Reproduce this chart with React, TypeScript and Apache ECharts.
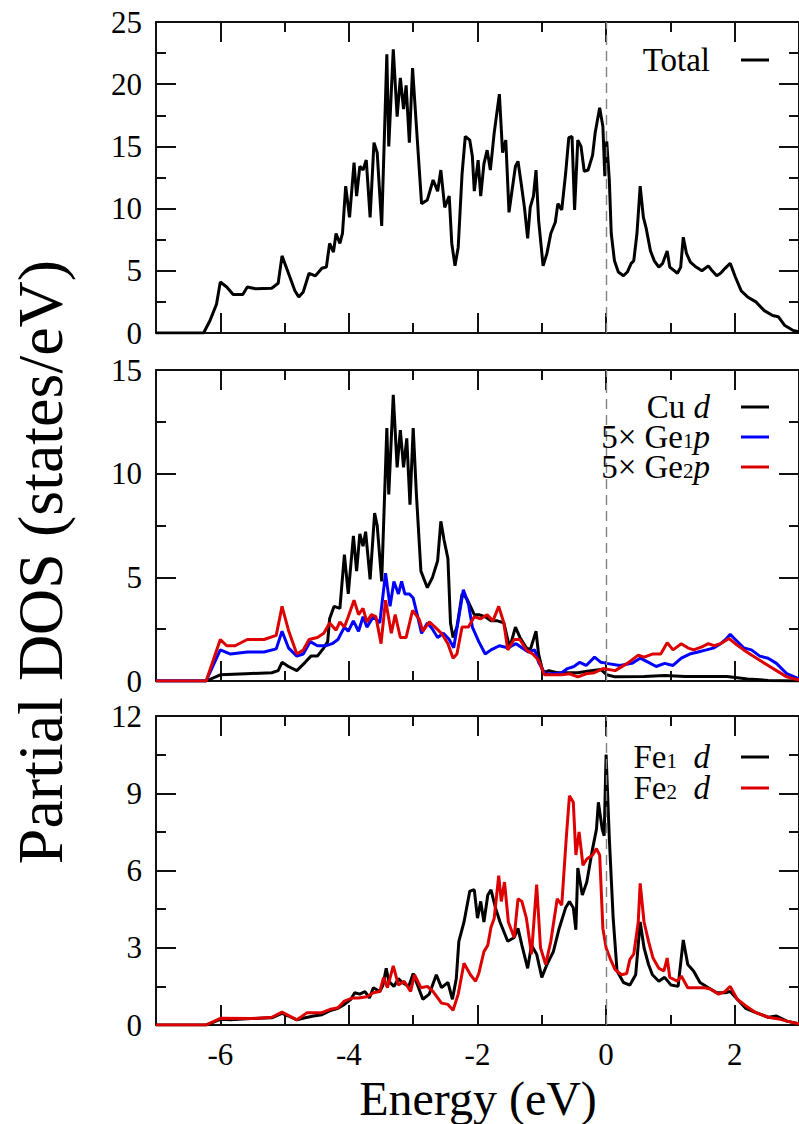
import React, { useEffect, useRef } from "react";
import * as echarts from "echarts";

// ---------------- data (energy in eV, DOS in states/eV) ----------------
const energyMajorTicks = [-6, -4, -2, 0, 2];
const energyMinorTicks = [-5, -3, -1, 1];

const totalDos: [number, number][] = [
  [-7, 0], [-6.26, 0], [-6.16, 1.0], [-6.06, 2.3], [-6.0, 4.1], [-5.9, 3.7], [-5.8, 3.1], [-5.65, 3.1], [-5.58, 3.7],
  [-5.45, 3.55], [-5.2, 3.6], [-5.1, 4.0], [-5.04, 6.2], [-4.94, 4.8], [-4.84, 3.4], [-4.78, 2.9], [-4.71, 3.3],
  [-4.62, 4.8], [-4.52, 4.6], [-4.42, 5.2], [-4.35, 5.3], [-4.3, 7.2], [-4.24, 6.5], [-4.2, 8.0], [-4.14, 7.2],
  [-4.1, 8.0], [-4.05, 11.8], [-3.99, 9.3], [-3.92, 13.7], [-3.88, 11.0], [-3.83, 13.4], [-3.78, 13.1], [-3.73, 13.9],
  [-3.67, 9.3], [-3.61, 15.3], [-3.56, 14.5], [-3.49, 8.6], [-3.41, 22.4], [-3.38, 15.0], [-3.31, 22.8], [-3.25, 17.4],
  [-3.2, 20.5], [-3.15, 18.0], [-3.11, 19.9], [-3.06, 15.3], [-3.01, 21.3], [-2.95, 16.6], [-2.87, 10.4], [-2.78, 10.7],
  [-2.69, 12.3], [-2.62, 11.4], [-2.57, 13.1], [-2.51, 10.1], [-2.44, 11.0], [-2.4, 7.2], [-2.35, 5.4], [-2.3, 6.9],
  [-2.24, 12.8], [-2.19, 15.8], [-2.12, 15.5], [-2.08, 14.2], [-2.05, 11.4], [-1.99, 13.9], [-1.95, 11.0], [-1.9, 13.6],
  [-1.85, 14.7], [-1.8, 13.1], [-1.74, 16.1], [-1.66, 19.2], [-1.61, 14.5], [-1.56, 15.5], [-1.51, 9.7], [-1.47, 11.2],
  [-1.41, 13.4], [-1.37, 13.8], [-1.32, 12.0], [-1.27, 10.1], [-1.22, 7.6], [-1.18, 10.1], [-1.13, 11.0], [-1.09, 13.1],
  [-1.05, 9.1], [-0.98, 5.4], [-0.92, 6.4], [-0.86, 8.0], [-0.79, 8.9], [-0.75, 10.4], [-0.69, 9.9], [-0.63, 12.8],
  [-0.58, 15.7], [-0.53, 15.8], [-0.49, 9.9], [-0.44, 15.5], [-0.39, 15.0], [-0.34, 13.0], [-0.28, 13.1], [-0.21, 14.3],
  [-0.17, 16.1], [-0.1, 18.1], [-0.05, 16.6], [-0.02, 12.6], [0.01, 15.4], [0.05, 12.3], [0.08, 8.0], [0.13, 5.8],
  [0.19, 4.9], [0.27, 4.6], [0.33, 4.9], [0.39, 5.6], [0.43, 5.8], [0.48, 8.0], [0.53, 11.8], [0.58, 9.3], [0.62, 8.5],
  [0.69, 6.6], [0.75, 5.8], [0.82, 5.3], [0.88, 5.6], [0.95, 6.6], [0.99, 5.3], [1.11, 4.8], [1.16, 5.3], [1.2, 7.7],
  [1.25, 6.4], [1.31, 5.7], [1.4, 5.3], [1.49, 5.0], [1.59, 5.4], [1.65, 5.0], [1.72, 4.6], [1.78, 4.8], [1.85, 5.2],
  [1.93, 5.6], [2.01, 4.5], [2.1, 3.4], [2.2, 2.9], [2.33, 2.5], [2.46, 1.8], [2.59, 1.4], [2.68, 1.3], [2.78, 0.6],
  [2.91, 0.2], [3.0, 0.1],
];

const cuD: [number, number][] = [
  [-7, 0], [-6.22, 0], [-6.0, 0.3], [-5.6, 0.35], [-5.2, 0.4], [-5.1, 0.5], [-5.04, 0.9], [-4.94, 0.7], [-4.81, 0.5],
  [-4.68, 0.9], [-4.59, 1.2], [-4.49, 1.2], [-4.39, 1.6], [-4.33, 1.9], [-4.3, 3.0], [-4.23, 3.6], [-4.14, 3.5],
  [-4.07, 6.1], [-4.01, 4.2], [-3.93, 7.0], [-3.88, 5.3], [-3.83, 7.1], [-3.78, 6.5], [-3.74, 7.2], [-3.67, 4.9],
  [-3.6, 8.1], [-3.56, 7.5], [-3.49, 4.8], [-3.41, 12.2], [-3.38, 9.0], [-3.31, 13.8], [-3.25, 10.3], [-3.2, 12.1],
  [-3.15, 10.3], [-3.1, 11.7], [-3.05, 8.5], [-3.0, 12.2], [-2.95, 9.0], [-2.88, 5.3], [-2.78, 4.5], [-2.7, 5.0],
  [-2.62, 5.8], [-2.57, 7.7], [-2.52, 6.8], [-2.46, 5.9], [-2.42, 2.8], [-2.38, 2.1], [-2.32, 2.6], [-2.24, 4.2],
  [-2.17, 4.0], [-2.11, 3.6], [-2.05, 3.2], [-1.98, 3.2], [-1.88, 3.1], [-1.79, 2.9], [-1.69, 2.9], [-1.59, 2.8],
  [-1.5, 1.6], [-1.41, 2.6], [-1.34, 2.1], [-1.24, 1.6], [-1.18, 1.5], [-1.09, 2.4], [-1.05, 1.3], [-0.98, 0.4],
  [-0.89, 0.5], [-0.76, 0.4], [-0.63, 0.4], [-0.44, 0.4], [-0.24, 0.5], [-0.08, 0.55], [0.01, 0.3], [0.14, 0.2],
  [0.59, 0.22], [0.91, 0.27], [1.23, 0.22], [1.88, 0.22], [2.2, 0.1], [2.52, 0.03], [3.0, 0],
];

const ge1p: [number, number][] = [
  [-7, 0], [-6.22, 0], [-6.0, 1.5], [-5.84, 1.3], [-5.58, 1.4], [-5.32, 1.4], [-5.13, 1.55], [-5.04, 2.4], [-4.94, 1.6],
  [-4.81, 1.2], [-4.71, 1.3], [-4.6, 1.9], [-4.49, 1.7], [-4.36, 1.7], [-4.26, 1.8], [-4.17, 2.0], [-4.07, 2.6],
  [-4.01, 2.4], [-3.93, 2.9], [-3.85, 2.4], [-3.78, 3.1], [-3.72, 2.6], [-3.62, 3.1], [-3.52, 2.8], [-3.43, 5.2],
  [-3.36, 3.6], [-3.3, 4.8], [-3.23, 4.2], [-3.18, 4.8], [-3.13, 4.2], [-3.06, 4.2], [-3.0, 4.0], [-2.93, 3.1],
  [-2.87, 2.3], [-2.78, 2.8], [-2.7, 2.5], [-2.62, 2.1], [-2.53, 2.3], [-2.44, 2.0], [-2.37, 1.6], [-2.3, 2.9],
  [-2.22, 4.4], [-2.14, 3.7], [-2.08, 2.6], [-1.98, 1.9], [-1.88, 1.3], [-1.79, 1.5], [-1.66, 1.7], [-1.53, 1.6],
  [-1.4, 1.8], [-1.31, 1.6], [-1.21, 1.4], [-1.11, 1.5], [-1.05, 0.9], [-0.95, 0.35], [-0.82, 0.35], [-0.69, 0.4],
  [-0.6, 0.6], [-0.5, 0.7], [-0.41, 0.9], [-0.31, 0.75], [-0.18, 1.15], [-0.08, 0.9], [0.01, 0.85], [0.21, 0.75],
  [0.4, 0.85], [0.53, 1.1], [0.66, 0.9], [0.78, 0.7], [0.91, 0.85], [1.04, 0.75], [1.17, 1.1], [1.3, 1.3], [1.43, 1.4],
  [1.56, 1.5], [1.68, 1.6], [1.78, 1.8], [1.86, 2.0], [1.93, 2.25], [2.01, 2.0], [2.14, 1.6], [2.26, 1.5], [2.39, 1.2],
  [2.52, 1.1], [2.65, 0.85], [2.81, 0.35], [3.0, 0.1],
];

const ge2p: [number, number][] = [
  [-7, 0], [-6.22, 0], [-6.0, 2.0], [-5.9, 1.7], [-5.77, 1.7], [-5.58, 2.0], [-5.32, 2.0], [-5.13, 2.2], [-5.04, 3.6],
  [-4.94, 2.45], [-4.81, 1.3], [-4.71, 1.5], [-4.62, 2.0], [-4.49, 2.1], [-4.39, 2.3], [-4.3, 2.8], [-4.2, 2.45],
  [-4.14, 2.85], [-4.07, 2.6], [-4.01, 3.1], [-3.92, 3.9], [-3.85, 3.2], [-3.78, 3.5], [-3.72, 2.85], [-3.65, 3.2],
  [-3.58, 3.1], [-3.5, 1.8], [-3.43, 3.9], [-3.34, 2.3], [-3.28, 3.2], [-3.2, 2.1], [-3.11, 2.1], [-3.01, 3.4],
  [-2.91, 3.0], [-2.85, 2.4], [-2.75, 2.85], [-2.66, 2.6], [-2.56, 2.3], [-2.46, 1.8], [-2.38, 1.1], [-2.32, 1.3],
  [-2.24, 2.6], [-2.14, 2.6], [-2.05, 3.1], [-1.95, 3.0], [-1.85, 3.2], [-1.76, 2.9], [-1.67, 3.6], [-1.59, 2.8],
  [-1.53, 1.5], [-1.43, 2.0], [-1.34, 2.0], [-1.24, 1.5], [-1.14, 1.3], [-1.05, 1.0], [-0.96, 0.3], [-0.82, 0.3],
  [-0.69, 0.3], [-0.57, 0.35], [-0.44, 0.2], [-0.31, 0.35], [-0.18, 0.4], [-0.05, 0.6], [0.14, 0.5], [0.33, 0.85],
  [0.5, 1.25], [0.59, 1.15], [0.72, 1.3], [0.85, 1.3], [0.95, 1.85], [1.04, 1.5], [1.17, 1.8], [1.27, 1.6], [1.36, 1.5],
  [1.49, 1.65], [1.59, 1.8], [1.68, 1.7], [1.78, 1.8], [1.91, 2.05], [2.01, 1.8], [2.14, 1.5], [2.26, 1.25], [2.39, 1.0],
  [2.52, 0.75], [2.65, 0.5], [2.81, 0.2], [3.0, 0.05],
];

const fe1d: [number, number][] = [
  [-7, 0], [-6.22, 0], [-6.0, 0.22], [-5.84, 0.2], [-5.52, 0.25], [-5.2, 0.28], [-5.04, 0.45], [-4.94, 0.35],
  [-4.81, 0.2], [-4.68, 0.28], [-4.55, 0.35], [-4.42, 0.4], [-4.3, 0.55], [-4.17, 0.65], [-4.07, 0.8], [-3.97, 1.0],
  [-3.91, 1.25], [-3.83, 1.2], [-3.75, 1.3], [-3.68, 1.05], [-3.62, 1.45], [-3.52, 1.3], [-3.47, 1.55], [-3.42, 2.2],
  [-3.38, 1.7], [-3.3, 1.5], [-3.23, 1.8], [-3.17, 1.65], [-3.07, 1.5], [-3.0, 2.0], [-2.91, 1.4], [-2.85, 1.0],
  [-2.75, 1.2], [-2.64, 1.95], [-2.56, 1.45], [-2.46, 1.65], [-2.39, 1.0], [-2.33, 1.8], [-2.29, 3.25], [-2.21, 4.0],
  [-2.12, 5.2], [-2.05, 5.25], [-2.0, 4.15], [-1.95, 4.8], [-1.9, 4.0], [-1.84, 5.05], [-1.79, 5.25], [-1.72, 4.55],
  [-1.65, 4.0], [-1.53, 3.25], [-1.43, 3.4], [-1.37, 3.75], [-1.31, 3.1], [-1.22, 2.2], [-1.16, 3.1], [-1.08, 2.75],
  [-1.0, 1.85], [-0.92, 2.35], [-0.82, 2.85], [-0.73, 3.75], [-0.63, 4.55], [-0.57, 4.8], [-0.51, 4.55], [-0.47, 3.7],
  [-0.44, 6.1], [-0.37, 5.05], [-0.3, 5.55], [-0.21, 6.85], [-0.15, 7.6], [-0.12, 8.65], [-0.06, 7.6], [-0.03, 7.35],
  [0.0, 10.5], [0.05, 7.25], [0.11, 4.15], [0.17, 2.1], [0.27, 1.65], [0.37, 1.55], [0.46, 1.95], [0.53, 4.0],
  [0.59, 3.0], [0.66, 2.35], [0.72, 1.95], [0.82, 1.7], [0.91, 1.85], [1.01, 1.55], [1.12, 1.5], [1.2, 3.3],
  [1.27, 2.35], [1.36, 2.1], [1.46, 1.65], [1.59, 1.45], [1.72, 1.25], [1.85, 1.25], [1.93, 1.3], [2.04, 1.0],
  [2.17, 0.65], [2.33, 0.48], [2.52, 0.3], [2.65, 0.35], [2.81, 0.15], [3.0, 0.05],
];

const fe2d: [number, number][] = [
  [-7, 0], [-6.22, 0], [-6.0, 0.26], [-5.52, 0.25], [-5.2, 0.3], [-5.04, 0.5], [-4.81, 0.2], [-4.65, 0.48],
  [-4.42, 0.48], [-4.3, 0.6], [-4.17, 0.67], [-4.07, 0.93], [-3.94, 1.05], [-3.85, 1.05], [-3.72, 1.1], [-3.62, 1.25],
  [-3.52, 1.3], [-3.46, 1.85], [-3.4, 1.45], [-3.31, 2.3], [-3.23, 1.55], [-3.14, 1.7], [-3.04, 1.3], [-2.98, 1.95],
  [-2.88, 1.45], [-2.78, 1.5], [-2.69, 1.3], [-2.56, 0.85], [-2.46, 0.8], [-2.38, 0.57], [-2.3, 1.2], [-2.21, 2.4],
  [-2.11, 1.95], [-2.03, 1.7], [-1.98, 2.0], [-1.9, 2.85], [-1.84, 3.1], [-1.79, 3.8], [-1.74, 4.15], [-1.67, 5.8],
  [-1.63, 4.8], [-1.58, 5.55], [-1.52, 4.0], [-1.43, 3.4], [-1.37, 4.9], [-1.31, 4.8], [-1.24, 4.15], [-1.16, 2.75],
  [-1.08, 5.45], [-1.02, 3.0], [-0.94, 2.35], [-0.86, 3.25], [-0.76, 4.9], [-0.69, 4.65], [-0.62, 7.25], [-0.57, 8.9],
  [-0.51, 8.65], [-0.47, 6.6], [-0.42, 7.5], [-0.36, 6.2], [-0.3, 6.45], [-0.21, 6.6], [-0.15, 6.85], [-0.1, 6.6],
  [-0.05, 3.75], [0.0, 3.0], [0.06, 2.6], [0.14, 2.15], [0.24, 1.95], [0.32, 2.0], [0.37, 2.55], [0.43, 2.75],
  [0.5, 4.0], [0.53, 5.5], [0.59, 4.0], [0.66, 3.25], [0.73, 2.6], [0.82, 2.2], [0.9, 2.1], [0.95, 2.6], [0.99, 1.85],
  [1.11, 1.7], [1.17, 1.9], [1.27, 1.45], [1.4, 1.45], [1.53, 1.45], [1.62, 1.4], [1.75, 1.2], [1.85, 1.3], [1.93, 1.5],
  [2.04, 1.0], [2.17, 0.75], [2.33, 0.48], [2.52, 0.3], [2.71, 0.22], [2.84, 0.13], [3.0, 0.05],
];

// y-axis ranges of the three panels
const panelYMax = [25, 15, 12];
const panelYInterval = [5, 5, 3];

// ---------------- styling ----------------
const SERIF = "Liberation Serif";
const BLACK = "#000000";
const BLUE = "#0000ff";
const RED = "#dd0000";

const gridTops = [22, 370, 716];
const gridHeights = [311, 311, 309];
const GRID_LEFT = 156;
const GRID_WIDTH = 647;

export default function App() {
  const ref = useRef<HTMLDivElement>(null);

  useEffect(() => {
    if (!ref.current) return;
    const chart = echarts.init(ref.current, undefined, { renderer: "svg" });

    const frame = { color: "#111", width: 2 };
    const tickStyle = { color: "#111", width: 2 };

    const grids = gridTops.map((t, i) => ({
      left: GRID_LEFT,
      top: t,
      width: GRID_WIDTH,
      height: gridHeights[i],
    }));

    const xAxes: any[] = [];
    const yAxes: any[] = [];
    for (let i = 0; i < 3; i++) {
      const base = { gridIndex: i, type: "value", min: -7, max: 3, splitLine: { show: false } };
      xAxes.push({
        ...base,
        position: "bottom",
        axisLine: { show: true, onZero: false, lineStyle: frame },
        axisTick: { show: true, inside: true, length: 20, customValues: energyMajorTicks, lineStyle: tickStyle },
        axisLabel: {
          show: i === 2,
          customValues: energyMajorTicks,
          margin: 14,
          color: BLACK,
          fontFamily: SERIF,
          fontSize: 31,
        },
      });
      xAxes.push({
        ...base,
        position: "bottom",
        axisLine: { show: false, onZero: false },
        axisTick: { show: true, inside: true, length: 10, customValues: energyMinorTicks, lineStyle: tickStyle },
        axisLabel: { show: false },
      });
      xAxes.push({
        ...base,
        position: "top",
        axisLine: { show: true, onZero: false, lineStyle: frame },
        axisTick: { show: true, inside: true, length: 20, customValues: energyMajorTicks, lineStyle: tickStyle },
        axisLabel: { show: false },
      });
      xAxes.push({
        ...base,
        position: "top",
        axisLine: { show: false, onZero: false },
        axisTick: { show: true, inside: true, length: 10, customValues: energyMinorTicks, lineStyle: tickStyle },
        axisLabel: { show: false },
      });

      const yBase = {
        gridIndex: i,
        type: "value",
        min: 0,
        max: panelYMax[i],
        interval: panelYInterval[i],
        splitLine: { show: false },
        axisLine: { show: true, onZero: false, lineStyle: frame },
        axisTick: { show: true, inside: true, length: 20, lineStyle: tickStyle },
        minorTick: { show: true, splitNumber: 2, length: 10, lineStyle: tickStyle },
        minorSplitLine: { show: false },
      };
      yAxes.push({
        ...yBase,
        position: "left",
        axisLabel: { show: true, margin: 14, color: BLACK, fontFamily: SERIF, fontSize: 31 },
      });
      yAxes.push({ ...yBase, position: "right", axisLabel: { show: false } });
    }

    const zeroLine = {
      silent: true,
      symbol: ["none", "none"],
      label: { show: false },
      lineStyle: { color: "#808080", width: 1.4, type: [10, 6] },
      data: [{ xAxis: 0 }],
    };

    const mk = (name: string, data: [number, number][], panel: number, color: string, withZero = false) => ({
      name,
      type: "line",
      xAxisIndex: panel * 4,
      yAxisIndex: panel * 2,
      data,
      showSymbol: false,
      symbol: "none",
      lineStyle: { color, width: 3 },
      z: 3,
      markLine: withZero ? zeroLine : undefined,
    });

    const series = [
      mk("Total", totalDos, 0, BLACK, true),
      mk("Cu d", cuD, 1, BLACK, true),
      mk("5× Ge1p", ge1p, 1, BLUE),
      mk("5× Ge2p", ge2p, 1, RED),
      mk("Fe1 d", fe1d, 2, BLACK, true),
      mk("Fe2 d", fe2d, 2, RED),
    ];

    const LEG_TEXT_X = 710;
    const LEG_LINE_X1 = 741;
    const LEG_LINE_X2 = 769;
    const rich = {
      r: { fontFamily: SERIF, fontSize: 33, lineHeight: 28, color: BLACK },
      i: { fontFamily: SERIF, fontSize: 33, fontStyle: "italic", lineHeight: 28, color: BLACK },
      s: { fontFamily: SERIF, fontSize: 21, lineHeight: 12, verticalAlign: "bottom", color: BLACK },
    };
    const legendItems: { text: string; y: number; color: string }[] = [
      { text: "{r|Total}", y: 60, color: BLACK },
      { text: "{r|Cu }{i|d}", y: 407, color: BLACK },
      { text: "{r|5× Ge}{s|1}{i|p}", y: 437, color: BLUE },
      { text: "{r|5× Ge}{s|2}{i|p}", y: 467, color: RED },
      { text: "{r|Fe}{s|1}{r|  }{i|d}", y: 757, color: BLACK },
      { text: "{r|Fe}{s|2}{r|  }{i|d}", y: 788, color: RED },
    ];
    const graphic: any[] = [];
    legendItems.forEach((it) => {
      graphic.push({
        type: "text",
        x: LEG_TEXT_X,
        y: it.y,
        z: 10,
        style: { text: it.text, align: "right", verticalAlign: "middle", rich, fill: BLACK },
      });
      graphic.push({
        type: "line",
        z: 10,
        shape: { x1: LEG_LINE_X1, y1: it.y, x2: LEG_LINE_X2, y2: it.y },
        style: { stroke: it.color, lineWidth: 3 },
      });
    });
    graphic.push({
      type: "text",
      x: 40,
      y: 562,
      rotation: Math.PI / 2,
      style: {
        text: "Partial DOS (states/eV)",
        fontFamily: SERIF,
        fontSize: 64,
        align: "center",
        verticalAlign: "middle",
        fill: BLACK,
      },
    });
    graphic.push({
      type: "text",
      x: 478,
      y: 1098,
      style: {
        text: "Energy (eV)",
        fontFamily: SERIF,
        fontSize: 48,
        align: "center",
        verticalAlign: "middle",
        fill: BLACK,
      },
    });

    chart.setOption({
      animation: false,
      backgroundColor: "#ffffff",
      grid: grids,
      xAxis: xAxes,
      yAxis: yAxes,
      series,
      graphic,
    });

    return () => {
      chart.dispose();
    };
  }, []);

  return (
    <div
      ref={ref}
      style={{ position: "absolute", left: 0, top: 0, width: 799, height: 1124, overflow: "hidden" }}
    />
  );
}
